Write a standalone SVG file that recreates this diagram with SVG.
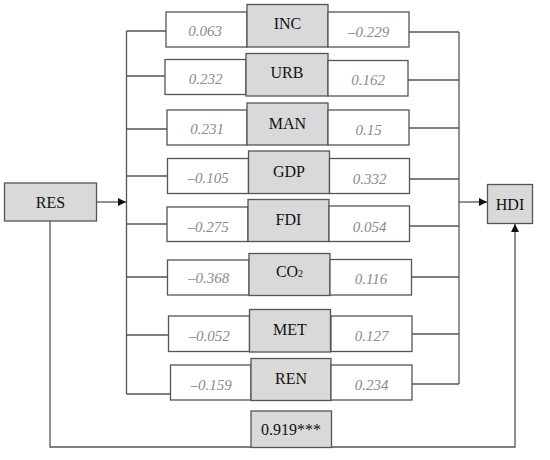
<svg xmlns="http://www.w3.org/2000/svg" width="550" height="460" viewBox="0 0 550 460">
<style>
.g{fill:#d9d9d9;stroke:#555;stroke-width:1.3}
.w{fill:#fff;stroke:#555;stroke-width:1.3}
.lbl{font-family:"Liberation Serif",serif;font-size:16px;fill:#111;text-anchor:middle}
.val{font-family:"Liberation Serif",serif;font-size:15px;font-style:italic;fill:#8a8a8a;text-anchor:middle}
.c{fill:none;stroke:#555;stroke-width:1.3}
</style>
<defs>
<marker id="ah" markerWidth="10" markerHeight="10" refX="8" refY="4" orient="auto" markerUnits="userSpaceOnUse">
<path d="M0,0 L8,4 L0,8 Z" fill="#111"/>
</marker>
</defs>
<rect width="550" height="460" fill="#fff"/>
<g id="connectors">
<path class="c" d="M126.5,31 V394"/>
<path class="c" d="M459,32 V384"/>
<path class="c" d="M126.5,31 H166 M126.5,76 H165 M126.5,129 H167 M126.5,176 H167 M126.5,224 H167 M126.5,277 H167 M126.5,335 H168 M126.5,394 H170"/>
<path class="c" d="M409,32 H459 M408,80 H459 M409,128 H459 M409,179 H459 M409,226 H459 M412,277 H459 M412,334 H459 M412,384 H459"/>
<path class="c" d="M97,202 H126" marker-end="url(#ah)"/>
<path class="c" d="M459,202 H487" marker-end="url(#ah)"/>
<path class="c" d="M50,221 V447 H515 V224" marker-end="url(#ah)"/>
</g>
<g id="RES"><rect class="g" x="4.5" y="183" width="92" height="38"/><text class="lbl" x="50.5" y="207.5">RES</text></g>
<g id="HDI"><rect class="g" x="487.5" y="184.5" width="45" height="39"/><text class="lbl" x="510" y="210">HDI</text></g>
<g id="INC"><rect class="w" x="166" y="12" width="81" height="35"/><rect class="g" x="247" y="4.5" width="81" height="42.5"/><rect class="w" x="328" y="12" width="81" height="35"/><text class="val" x="205" y="36">0.063</text><text class="lbl" x="287.5" y="29">INC</text><text class="val" x="368.5" y="36.5">–0.229</text></g>
<g id="URB"><rect class="w" x="165" y="59.5" width="81" height="35"/><rect class="g" x="246" y="53.5" width="82" height="42.5"/><rect class="w" x="328" y="60.5" width="80" height="35.5"/><text class="val" x="205.5" y="84">0.232</text><text class="lbl" x="287" y="77.5">URB</text><text class="val" x="368" y="85">0.162</text></g>
<g id="MAN"><rect class="w" x="167" y="110" width="80" height="35"/><rect class="g" x="247" y="103" width="81" height="42"/><rect class="w" x="328" y="110" width="81" height="35"/><text class="val" x="207" y="134">0.231</text><text class="lbl" x="287.5" y="128.5">MAN</text><text class="val" x="368.5" y="134.5">0.15</text></g>
<g id="GDP"><rect class="w" x="167.5" y="158.5" width="81" height="35"/><rect class="g" x="248.5" y="151" width="81" height="42.5"/><rect class="w" x="329.5" y="158.5" width="80" height="35"/><text class="val" x="208" y="183">–0.105</text><text class="lbl" x="289" y="176.5">GDP</text><text class="val" x="369.5" y="183.5">0.332</text></g>
<g id="FDI"><rect class="w" x="167" y="207" width="81" height="34.5"/><rect class="g" x="248" y="199.5" width="81" height="42"/><rect class="w" x="329" y="206" width="80.5" height="35.5"/><text class="val" x="208" y="231.5">–0.275</text><text class="lbl" x="288.5" y="225">FDI</text><text class="val" x="369.5" y="232">0.054</text></g>
<g id="CO2"><rect class="w" x="167.5" y="260" width="81.5" height="35"/><rect class="g" x="249" y="253.5" width="81" height="42"/><rect class="w" x="330" y="259.5" width="81.5" height="35.5"/><text class="val" x="208.5" y="283">–0.368</text><text class="lbl" x="289.5" y="277">CO<tspan font-size="10">2</tspan></text><text class="val" x="371" y="283.5">0.116</text></g>
<g id="MET"><rect class="w" x="168.5" y="316" width="81" height="35.5"/><rect class="g" x="249.5" y="309.5" width="81" height="42.5"/><rect class="w" x="331" y="316" width="81" height="35.5"/><text class="val" x="209" y="341">–0.052</text><text class="lbl" x="290" y="335">MET</text><text class="val" x="371.5" y="341">0.127</text></g>
<g id="REN"><rect class="w" x="170.5" y="365" width="80.5" height="35"/><rect class="g" x="251" y="358.5" width="80" height="42"/><rect class="w" x="331" y="365" width="81" height="35"/><text class="val" x="211" y="390">–0.159</text><text class="lbl" x="291" y="383.5">REN</text><text class="val" x="371.5" y="390">0.234</text></g>
<g id="total"><rect class="g" x="251" y="411" width="80.5" height="36.5"/><text class="lbl" x="291" y="434.5">0.919***</text></g>
</svg>
